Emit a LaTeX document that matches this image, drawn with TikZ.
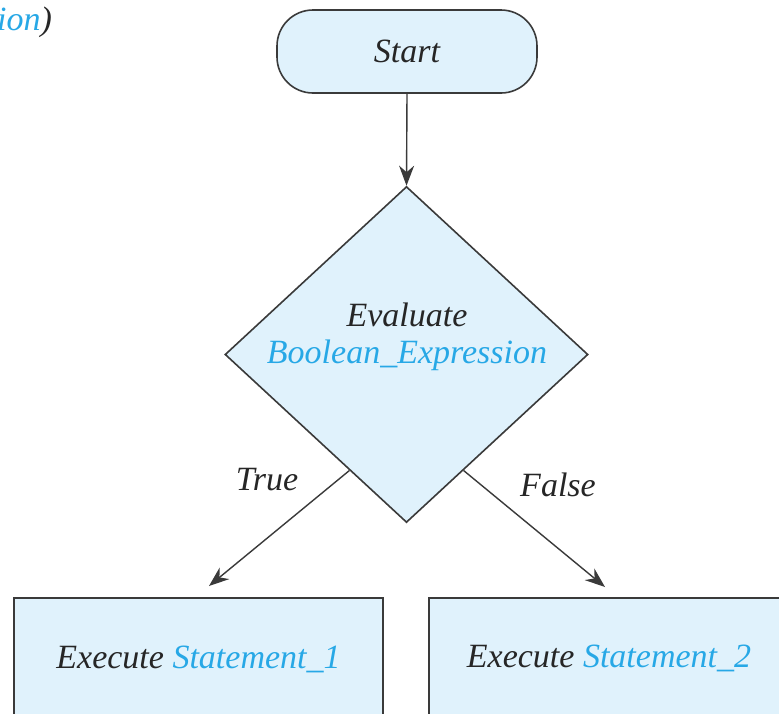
\documentclass[tikz,border=0pt]{standalone}
\usepackage{fontspec}
\setmainfont{Liberation Serif}
\usetikzlibrary{shapes.geometric,arrows.meta,calc}
\definecolor{boxfill}{HTML}{E0F2FC}
\definecolor{kwblue}{HTML}{27A8E6}
\definecolor{lineC}{HTML}{3A3A3A}
\tikzset{
  every node/.style={font=\fontsize{34}{38}\selectfont\itshape, text=black!85},
  shapeline/.style={draw=lineC, line width=1.6pt, fill=boxfill},
  flow/.style={draw=lineC, line width=1.4pt, -{Stealth[length=20pt,width=15pt]}},
}
\begin{document}
\begin{tikzpicture}[x=1pt,y=-1pt]
\clip (0,0) rectangle (779,713);
\fill[white] (0,0) rectangle (779,713);
\node[anchor=west, inner sep=0] (frag) at (-3,22) {\textcolor{kwblue}{ion})};
\node[shapeline, rounded corners=36pt, minimum width=260pt, minimum height=83pt, inner sep=0] (start) at (407,51.5) {Start};
\node[shapeline, diamond, minimum width=363pt, minimum height=336pt, inner sep=0] (dec) at (406.5,354.5) {};
\node[align=center, inner sep=0] (dectext) at (407,337) {Evaluate\\[-1pt]\textcolor{kwblue}{Boolean\_Expression}};
\node[shapeline, minimum width=369pt, minimum height=122pt, inner sep=0] (s1) at (198.5,659) {Execute \textcolor{kwblue}{Statement\_1}};
\node[shapeline, minimum width=369pt, minimum height=122pt, inner sep=0] (s2) at (613.5,659) {};
\node[inner sep=0] (s2text) at (609,658) {Execute \textcolor{kwblue}{Statement\_2}};
\node[inner sep=0] (tl) at (267,480) {True};
\node[inner sep=0] (fl) at (558,485) {False};
\coordinate (t1) at ($(dec.west)!0.687!(dec.south)$);
\coordinate (f1) at ($(dec.east)!0.687!(dec.south)$);
\coordinate (t2) at (209,586);
\coordinate (f2) at (605,587);
\draw[flow] (start.south) -- (dec.north);
\draw[flow] (t1) -- (t2);
\draw[flow] (f1) -- (f2);
\end{tikzpicture}
\end{document}
